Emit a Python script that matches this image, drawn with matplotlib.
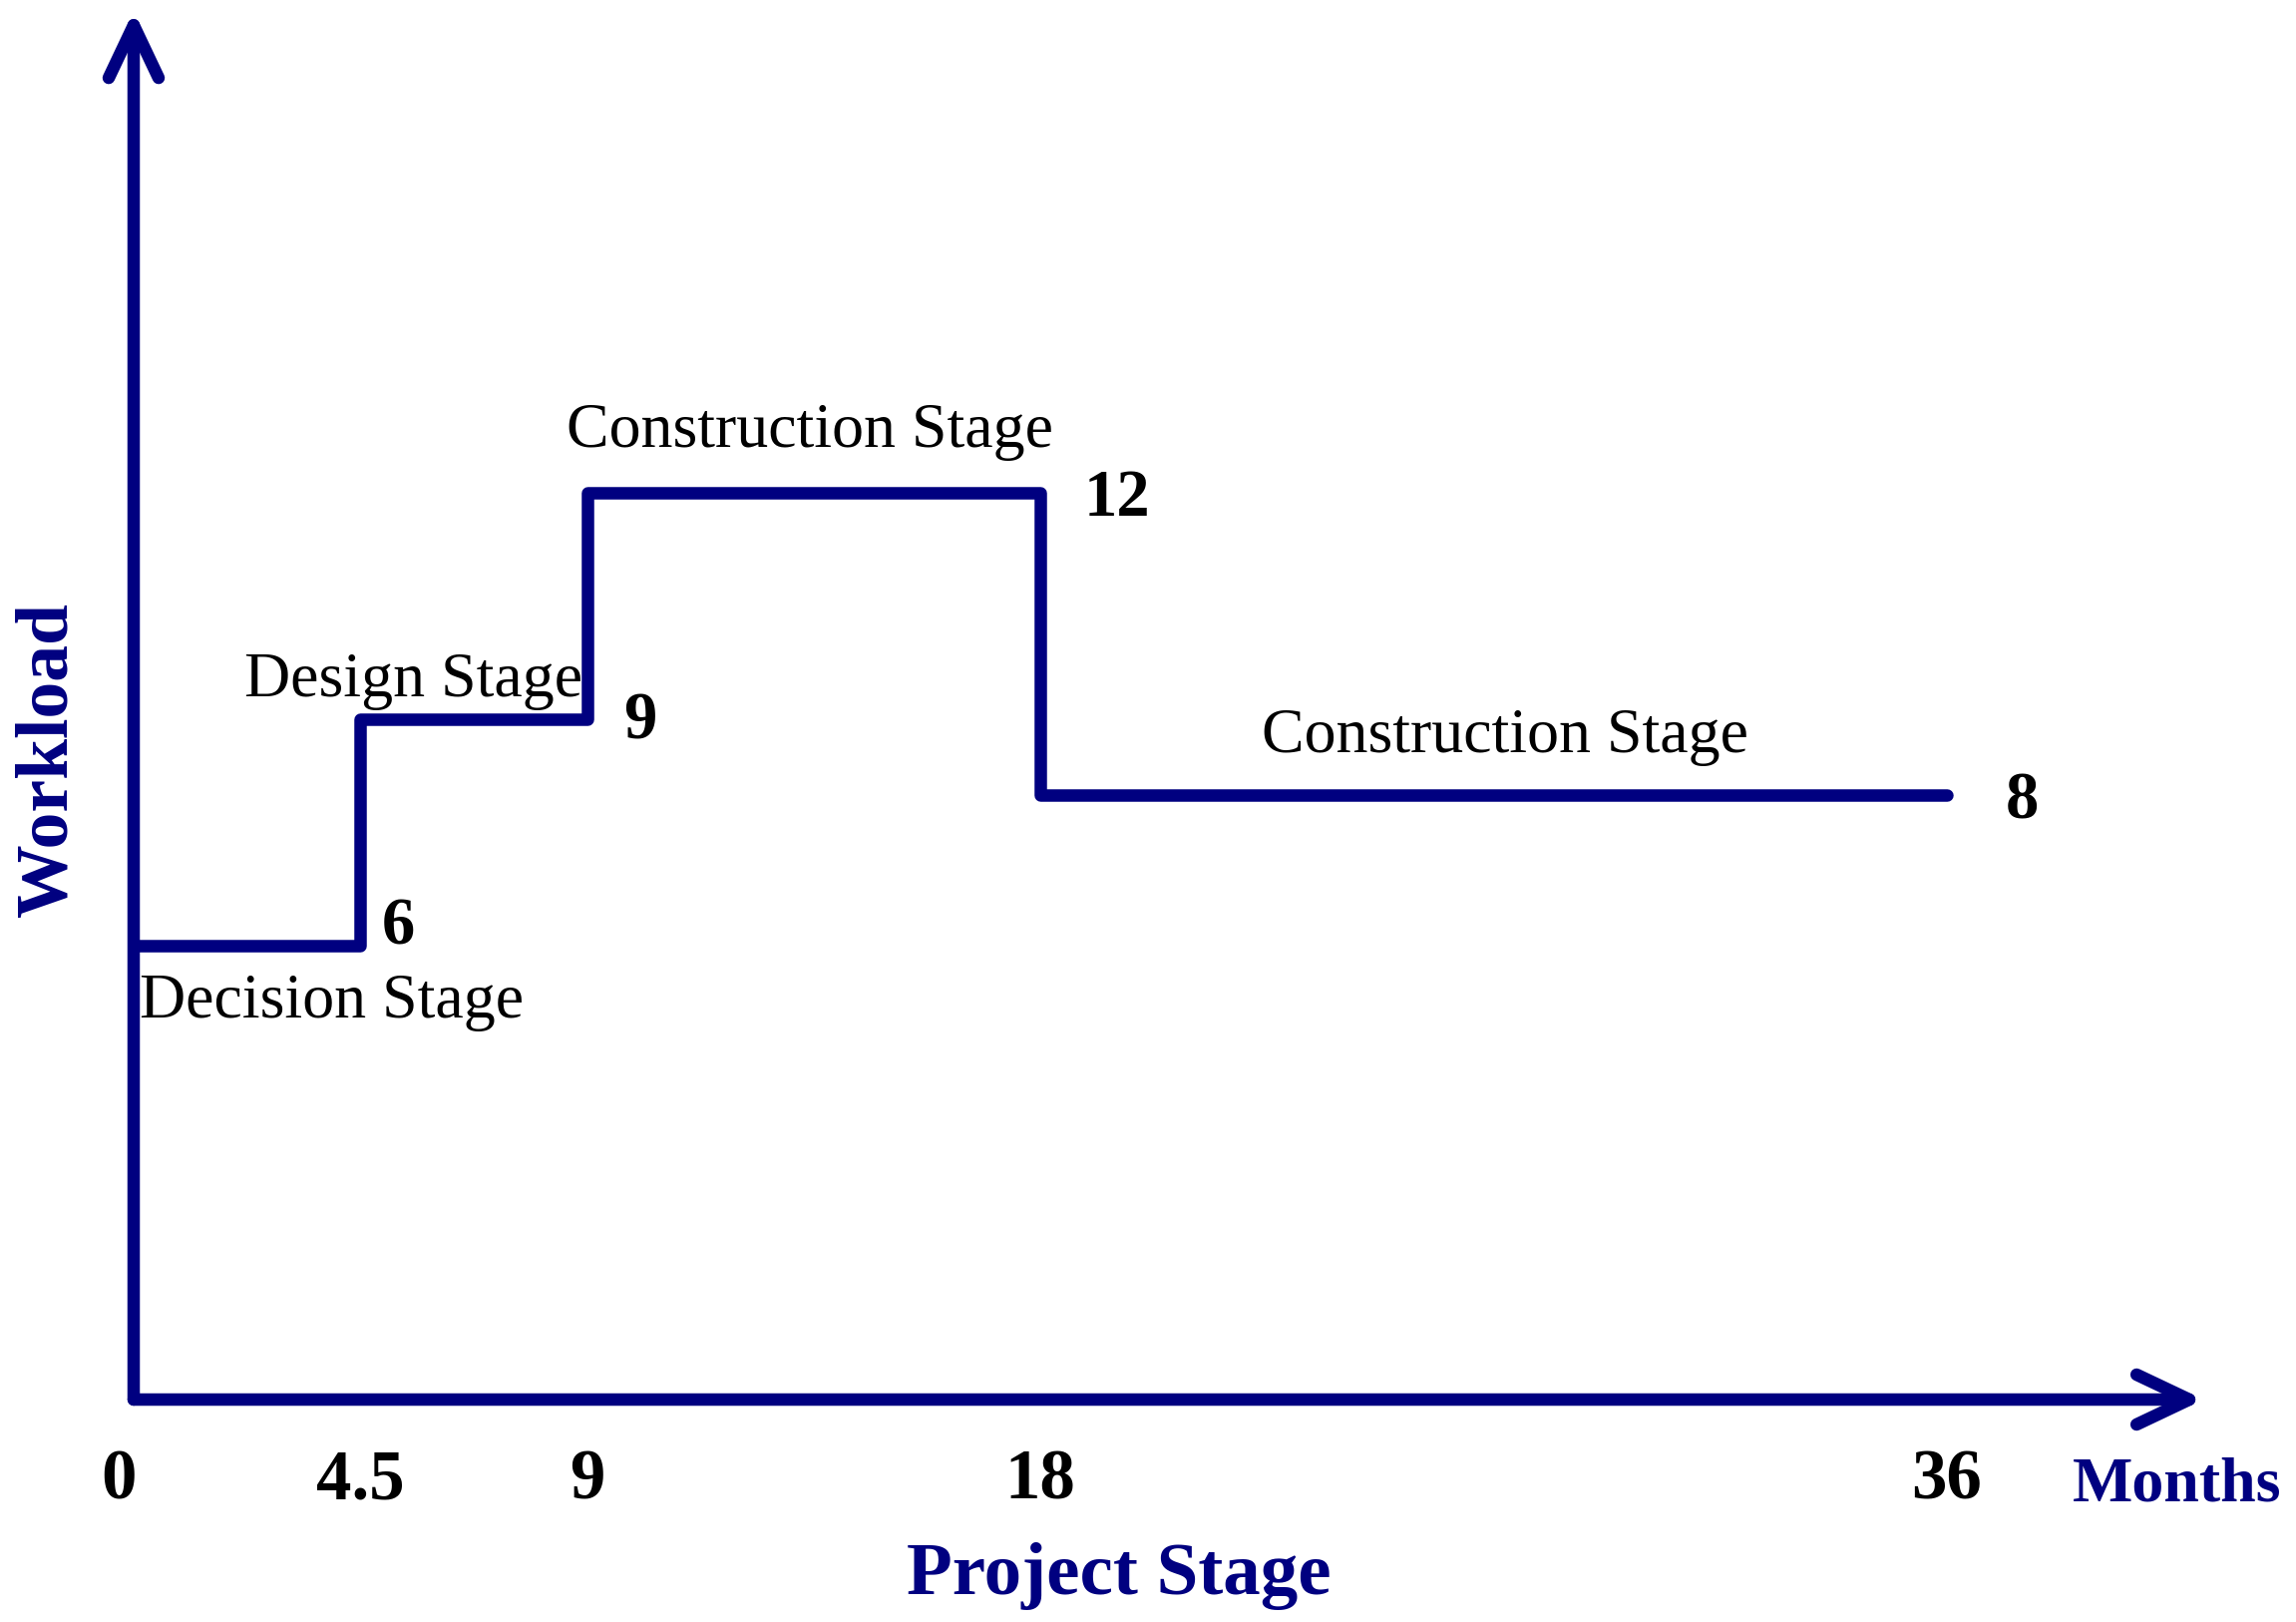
import matplotlib
matplotlib.use('Agg')
import matplotlib.pyplot as plt
from matplotlib.patches import FancyArrowPatch

# Данные: границы этапов (месяцы) и трудоёмкость на каждом этапе
months = [0, 4.5, 9, 18, 36]
workload = [6, 9, 12, 8]
stage_names = ['Decision Stage', 'Design Stage', 'Construction Stage', 'Construction Stage']
tick_labels = ['0', '4.5', '9', '18', '36']

navy = '#000080'
plt.rcParams['font.family'] = ['Liberation Serif', 'DejaVu Serif']

fig = plt.figure(figsize=(23.02, 16.26), dpi=100)
ax = fig.add_axes([0, 0, 1, 1])
# пиксели -> данные: x = 0 на 134 px, 50.5 px/мес; y = 0 на 1403 px, 75.75 px/ед.
ax.set_xlim(-134 / 50.5, (2302 - 134) / 50.5)
ax.set_ylim((1403 - 1626) / 75.75, 1403 / 75.75)
ax.axis('off')

# Ступенчатая линия
ax.step(months, workload + [workload[-1]], where='post', color=navy, lw=9,
        solid_joinstyle='round', solid_capstyle='round')

# Оси со стрелками
for end in [(41.1, 0), (0, 18.38)]:
    arr = FancyArrowPatch((0, 0), end, arrowstyle='->,head_length=1.9,head_width=0.9',
                          mutation_scale=20, color=navy, lw=9,
                          capstyle='round', joinstyle='round', shrinkA=0, shrinkB=0)
    ax.add_patch(arr)

# Подписи этапов (чуть ниже центра из-за выносных элементов)
dy = -0.09
ax.text(0.12, 5.35 + dy, stage_names[0], fontsize=46, ha='left', va='center')
ax.text(2.2, 9.6 + dy, stage_names[1], fontsize=46, ha='left', va='center')
ax.text(8.6, 12.9 + dy, stage_names[2], fontsize=46, ha='left', va='center')
ax.text(22.4, 8.85 + dy, stage_names[3], fontsize=46, ha='left', va='center')

# Значения трудоёмкости у концов ступеней
ax.text(4.5 + 0.76, workload[0] + 0.34 + dy, str(workload[0]), fontsize=48, weight='bold', ha='center', va='center')
ax.text(9 + 1.06, workload[1] + 0.05 + dy, str(workload[1]), fontsize=48, weight='bold', ha='center', va='center')
ax.text(18 + 1.53, workload[2] + dy, str(workload[2]), fontsize=48, weight='bold', ha='center', va='center')
ax.text(36 + 1.5, workload[3] + dy, str(workload[3]), fontsize=48, weight='bold', ha='center', va='center')

# Метки оси X
for m, lab in zip(months, tick_labels):
    xoff = -0.3 if m == 0 else 0
    ax.text(m + xoff, -0.99 + dy, lab, fontsize=51, weight='bold', ha='center', va='center')

ax.text(38.5, -1.05 + dy, 'Months', fontsize=46, weight='bold', color=navy, ha='left', va='center')
ax.text(19.56, -2.25 + dy, 'Project Stage', fontsize=54, weight='bold', color=navy, ha='center', va='center')
ax.text(-1.69, 8.47, 'Workload', fontsize=53, weight='bold', color=navy, ha='center',
        va='center', rotation=90)

fig.savefig('out.png', dpi=100, facecolor='white')
